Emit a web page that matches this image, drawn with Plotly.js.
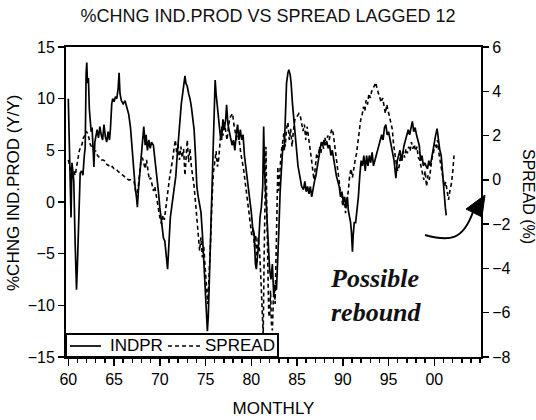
<!DOCTYPE html>
<html>
<head>
<meta charset="utf-8">
<script src="https://cdn.plot.ly/plotly-3.0.1.min.js"></script>
<style>html,body{margin:0;padding:0;background:#fff;}#chart{width:536px;height:420px;}</style>
</head>
<body>
<div id="chart"></div>
<script>
// ---- DATA (decimal years) ----
var indprYears = [1960.0,1960.08,1960.17,1960.3,1960.4,1960.5,1960.6,1960.75,1960.9,1961.0,1961.15,1961.3,1961.45,1961.6,1961.75,1961.85,1961.95,1962.02,1962.1,1962.2,1962.3,1962.4,1962.5,1962.6,1962.7,1962.8,1962.9,1963.0,1963.15,1963.3,1963.45,1963.6,1963.75,1963.9,1964.05,1964.2,1964.35,1964.5,1964.6,1964.75,1964.85,1965.0,1965.15,1965.3,1965.45,1965.55,1965.65,1965.8,1966.0,1966.2,1966.4,1966.6,1966.8,1967.0,1967.15,1967.3,1967.45,1967.55,1967.65,1967.8,1967.95,1968.1,1968.25,1968.4,1968.5,1968.65,1968.8,1968.95,1969.1,1969.3,1969.5,1969.7,1969.85,1970.0,1970.2,1970.4,1970.55,1970.7,1970.85,1971.0,1971.15,1971.3,1971.45,1971.6,1971.75,1971.9,1972.05,1972.2,1972.35,1972.5,1972.65,1972.75,1972.85,1973.0,1973.15,1973.3,1973.45,1973.6,1973.75,1973.9,1974.05,1974.2,1974.35,1974.5,1974.65,1974.8,1974.95,1975.1,1975.2,1975.3,1975.45,1975.6,1975.75,1975.85,1975.95,1976.05,1976.15,1976.3,1976.45,1976.6,1976.75,1976.9,1977.05,1977.2,1977.3,1977.45,1977.6,1977.75,1977.9,1978.05,1978.2,1978.35,1978.5,1978.65,1978.8,1978.95,1979.1,1979.25,1979.4,1979.55,1979.7,1979.85,1980.0,1980.15,1980.3,1980.45,1980.55,1980.7,1980.8,1980.95,1981.1,1981.25,1981.35,1981.45,1981.55,1981.7,1981.85,1982.0,1982.15,1982.3,1982.45,1982.6,1982.75,1982.9,1983.0,1983.15,1983.3,1983.45,1983.6,1983.75,1983.85,1984.0,1984.1,1984.25,1984.35,1984.5,1984.65,1984.8,1984.95,1985.1,1985.3,1985.5,1985.7,1985.85,1986.0,1986.15,1986.3,1986.45,1986.6,1986.75,1986.9,1987.05,1987.2,1987.35,1987.5,1987.65,1987.8,1987.95,1988.1,1988.25,1988.4,1988.55,1988.7,1988.85,1989.0,1989.15,1989.3,1989.45,1989.6,1989.75,1989.9,1990.05,1990.2,1990.35,1990.5,1990.6,1990.75,1990.85,1990.95,1991.05,1991.15,1991.25,1991.4,1991.55,1991.7,1991.85,1992.0,1992.15,1992.3,1992.45,1992.6,1992.75,1992.9,1993.05,1993.2,1993.35,1993.5,1993.65,1993.8,1993.95,1994.1,1994.25,1994.4,1994.55,1994.7,1994.85,1995.0,1995.15,1995.3,1995.45,1995.6,1995.8,1995.95,1996.1,1996.25,1996.4,1996.55,1996.7,1996.85,1997.0,1997.15,1997.3,1997.45,1997.6,1997.75,1997.9,1998.05,1998.2,1998.35,1998.5,1998.65,1998.8,1998.95,1999.1,1999.25,1999.4,1999.55,1999.7,1999.85,2000.0,2000.15,2000.3,2000.45,2000.6,2000.75,2000.9,2001.05,2001.2,2001.3];
var indprValues = [10.0,4.5,3.5,-1.5,3.8,3.0,2.0,-4,-8.5,-6,-2,2.8,3.0,2.6,4.5,5.3,12.5,13.5,11.5,12,9,7.2,6.8,7.2,4.5,3.4,5.8,6.5,7.0,6.2,7.3,6.5,6.0,7.5,6.3,5.8,6.8,6.0,7.0,9.5,10.0,9.7,10.2,10.0,11.0,12.5,10.5,9.8,9.5,9.8,9.2,8.5,7.2,4.5,3.0,1.5,0.5,-0.5,1.0,2.5,4.5,5.5,7.3,5.5,6.5,5.0,6.0,5.2,5.8,5.5,4.0,2.5,1.0,-0.5,-2.0,-3.5,-3.8,-5.0,-6.5,-4.0,-1.5,-0.5,0.5,1.5,2.5,4.5,6.5,8.5,9.5,10.5,11.8,12.2,11.5,11.2,10.5,10.0,9.2,8.0,7.0,4.5,1.5,0.5,-0.5,-1.0,-3.0,-6.0,-9.0,-11.5,-12.5,-11.0,-6.5,-3.0,1.5,5.0,9.5,11.8,10.5,9.0,8.0,6.5,6.0,8.0,7.0,8.0,9.4,7.5,6.8,6.0,5.5,6.0,5.0,6.5,7.5,6.0,7.0,6.0,6.5,4.5,3.5,2.5,1.5,0.0,-1.0,-2.5,-3.0,-6.0,-6.5,-5.0,-4.0,-1.5,-0.5,1.5,7.3,3.0,1.0,-0.5,-3.5,-6.5,-7.5,-6.0,-9.0,-8.0,-8.5,-6.0,-3.0,1.0,4.0,5.5,5.0,9.0,11.5,12.5,12.8,12.3,11.5,9.5,8.0,6.5,4.5,3.5,2.5,1.5,1.2,2.0,1.0,1.5,0.8,1.5,0.5,1.5,2.0,2.5,3.5,4.2,5.0,5.8,5.5,6.0,5.5,5.8,5.2,5.5,4.5,5.0,4.0,3.0,2.5,2.0,1.5,0.5,1.0,0.0,0.5,-0.5,0.5,-0.8,-1.4,-2.0,-3.0,-4.8,-3.0,-2.0,-2.0,-1.0,0.5,2.5,4.0,3.5,4.5,3.0,4.5,3.5,4.5,3.8,4.8,3.5,4.0,4.5,5.0,5.5,5.8,6.5,6.0,7.2,7.5,6.5,6.8,6.0,5.5,4.5,4.0,2.3,4.0,4.5,5.0,4.0,5.0,5.5,6.0,6.5,7.0,6.5,7.2,7.8,6.8,7.2,6.5,5.9,5.5,4.0,4.5,3.5,3.8,3.5,3.2,4.0,3.5,4.2,5.0,6.0,6.5,7.1,6.0,5.0,4.5,2.5,1.0,-0.5,-1.3];

var spreadYears = [1960.0,1960.15,1960.3,1960.45,1960.6,1960.75,1960.9,1961.05,1961.2,1961.35,1961.5,1961.65,1961.8,1961.95,1962.1,1962.25,1962.4,1962.55,1962.7,1962.85,1963.0,1963.2,1963.4,1963.6,1963.8,1964.0,1964.2,1964.4,1964.6,1964.8,1965.0,1965.2,1965.4,1965.6,1965.8,1966.0,1966.2,1966.4,1966.6,1966.8,1967.0,1967.2,1967.35,1967.5,1967.65,1967.8,1967.95,1968.1,1968.25,1968.4,1968.55,1968.7,1968.85,1969.0,1969.15,1969.3,1969.45,1969.6,1969.75,1969.9,1970.05,1970.2,1970.35,1970.5,1970.65,1970.8,1970.95,1971.1,1971.25,1971.4,1971.55,1971.7,1971.85,1972.0,1972.15,1972.3,1972.45,1972.6,1972.75,1972.9,1973.0,1973.15,1973.3,1973.45,1973.6,1973.75,1973.9,1974.05,1974.2,1974.35,1974.5,1974.65,1974.8,1974.95,1975.1,1975.25,1975.4,1975.55,1975.7,1975.85,1976.0,1976.15,1976.3,1976.45,1976.6,1976.75,1976.9,1977.05,1977.2,1977.35,1977.5,1977.65,1977.8,1977.95,1978.1,1978.25,1978.4,1978.55,1978.7,1978.85,1979.0,1979.15,1979.3,1979.45,1979.6,1979.75,1979.9,1980.05,1980.2,1980.35,1980.5,1980.6,1980.75,1980.9,1981.05,1981.2,1981.3,1981.4,1981.5,1981.6,1981.7,1981.8,1981.9,1982.0,1982.1,1982.2,1982.3,1982.4,1982.5,1982.6,1982.7,1982.8,1982.9,1983.0,1983.1,1983.25,1983.4,1983.55,1983.7,1983.85,1984.0,1984.15,1984.3,1984.45,1984.6,1984.75,1984.9,1985.05,1985.2,1985.35,1985.5,1985.65,1985.8,1985.95,1986.1,1986.25,1986.4,1986.55,1986.7,1986.85,1987.0,1987.15,1987.3,1987.45,1987.6,1987.75,1987.9,1988.05,1988.2,1988.35,1988.5,1988.65,1988.8,1988.95,1989.1,1989.25,1989.4,1989.55,1989.7,1989.85,1990.0,1990.15,1990.3,1990.45,1990.6,1990.75,1990.9,1991.05,1991.2,1991.35,1991.5,1991.65,1991.8,1991.95,1992.1,1992.25,1992.4,1992.55,1992.7,1992.85,1993.0,1993.15,1993.3,1993.45,1993.6,1993.75,1993.9,1994.05,1994.2,1994.35,1994.5,1994.65,1994.8,1994.95,1995.1,1995.25,1995.4,1995.55,1995.7,1995.85,1996.0,1996.15,1996.3,1996.45,1996.6,1996.75,1996.9,1997.05,1997.2,1997.35,1997.5,1997.65,1997.8,1997.95,1998.1,1998.25,1998.4,1998.55,1998.7,1998.85,1999.0,1999.15,1999.3,1999.45,1999.6,1999.75,1999.9,2000.05,2000.2,2000.35,2000.5,2000.65,2000.8,2000.95,2001.1,2001.25,2001.4,2001.55,2001.7,2001.85,2002.0,2002.15];
var spreadValues = [0.9,0.6,0.4,0.2,0.4,0.2,0.6,1.0,1.3,1.5,1.6,1.9,2.0,2.2,2.1,1.9,1.6,1.5,1.4,1.3,1.3,1.1,1.0,0.9,0.9,0.85,0.7,0.65,0.55,0.6,0.5,0.5,0.4,0.3,0.25,0.2,0.1,0.05,0.0,0.0,-0.05,-0.1,-0.5,-0.8,-0.3,0.4,0.9,1.0,0.8,0.5,0.9,0.3,0.0,0.1,-0.2,-0.5,-0.3,-0.7,-1.0,-1.3,-1.8,-2.0,-1.6,-1.8,-1.2,-0.6,-0.3,0.2,0.5,0.9,1.4,1.8,1.2,1.6,0.9,1.5,1.0,1.4,0.2,1.2,1.8,0.8,1.4,0.6,0.2,-0.3,-1.0,-1.8,-2.5,-3.2,-2.6,-3.5,-3.0,-4.2,-4.8,-5.6,-4.5,-2.8,-1.0,0.3,0.8,1.3,0.6,1.0,1.8,2.4,2.0,2.6,2.2,1.8,2.4,2.8,2.9,3.0,2.5,2.2,1.8,2.0,1.7,1.2,0.9,0.5,0.0,-0.5,-1.2,-1.5,-2.0,-2.5,-2.2,-3.0,-2.5,-3.8,-2.6,-3.2,-4.5,-6.0,-7.0,-3.5,0.5,1.5,-1.5,-4.0,-6.0,-6.2,-5.0,-6.5,-6.8,-5.5,-4.8,-5.6,-3.5,-1.5,0.6,-0.5,0.3,1.2,1.6,2.1,1.5,2.3,2.6,1.8,2.3,1.5,2.2,2.7,2.8,2.9,3.0,2.9,2.6,2.2,2.5,1.8,2.4,2.0,1.6,1.0,0.5,0.0,0.6,1.2,1.0,1.5,1.2,1.7,1.4,1.9,1.6,2.0,1.8,2.1,2.3,2.1,1.6,1.0,0.4,-0.1,-0.4,-0.7,-1.2,-0.8,-1.5,-0.9,-0.5,0.2,0.5,0.1,0.6,0.9,1.2,1.8,2.2,2.7,2.9,3.3,3.1,3.6,3.4,3.9,3.7,4.0,4.1,4.3,4.4,4.1,3.9,3.8,3.5,3.7,3.3,3.0,3.4,3.1,2.9,2.6,2.3,1.6,1.0,0.7,0.4,0.6,1.1,0.8,1.3,1.0,1.4,1.2,1.5,1.3,1.7,1.4,1.6,1.3,1.5,1.0,0.9,0.5,0.3,0.0,0.4,-0.3,0.2,0.0,0.6,1.0,1.2,1.6,1.4,1.8,1.2,0.8,0.3,0.0,-0.3,-0.1,-0.6,-0.9,-0.5,-0.2,0.3,1.1];

var tickYears = [1960,1965,1970,1975,1980,1985,1990,1995,2000];
var tickLabels = ['60','65','70','75','80','85','90','95','00'];
var seriesNames = ['INDPR','SPREAD'];

// ---- LAYOUT HELPERS (pixel -> paper, for decorations only) ----
var W = 536, H = 420, ML = 66, MR = 55, MT = 47, MB = 63;
var PW = W - ML - MR, PH = H - MT - MB;
function px(x){ return +((x - ML) / PW).toFixed(4); }
function py(y){ return +((H - MB - y) / PH).toFixed(4); }

var FONT = 'Liberation Sans, Arial, sans-serif';

var traces = [
  {x: indprYears, y: indprValues, name: seriesNames[0], type: 'scatter', mode: 'lines',
   line: {color: '#000', width: 1.7}, yaxis: 'y', showlegend: false},
  {x: spreadYears, y: spreadValues, name: seriesNames[1], type: 'scatter', mode: 'lines',
   line: {color: '#000', width: 1.6, dash: '4px,3px'}, yaxis: 'y2', showlegend: false}
];

var curve = 'M ' + px(425) + ',' + py(235) + ' C ' + px(450) + ',' + py(242) + ' ' + px(463) + ',' + py(240) + ' ' + px(473) + ',' + py(212);
var head = 'M ' + px(485) + ',' + py(195) + ' L ' + px(466) + ',' + py(209) + ' L ' + px(482) + ',' + py(217) + ' Z';

var layout = {
  width: W, height: H,
  margin: {l: ML, r: MR, t: MT, b: MB, pad: 0},
  paper_bgcolor: '#fff', plot_bgcolor: '#fff',
  font: {family: FONT, size: 16, color: '#000'},
  showlegend: false,
  title: {text: '%CHNG IND.PROD VS SPREAD LAGGED 12', font: {family: FONT, size: 18, color: '#111'},
          x: 0.5, xanchor: 'center', y: 1 - 16/H, yanchor: 'middle'},
  xaxis: {
    range: [1959.75, 2005.1], tickmode: 'array', tickvals: tickYears, ticktext: tickLabels,
    ticks: 'outside', ticklen: 7, tickwidth: 1.5, tickcolor: '#000',
    showline: true, linewidth: 2, linecolor: '#000', mirror: true,
    showgrid: false, zeroline: false,
    tickfont: {size: 16},
    minor: {tickmode: 'linear', tick0: 1960, dtick: 1, ticks: 'outside', ticklen: 4, tickwidth: 1.5, tickcolor: '#000', showgrid: false},
    title: {text: 'MONTHLY', font: {size: 17}, standoff: 15}
  },
  yaxis: {
    range: [-15, 15], dtick: 5, ticks: 'outside', ticklen: 6, tickwidth: 1.5, tickcolor: '#000',
    showline: true, linewidth: 2, linecolor: '#000', showgrid: false, zeroline: false,
    tickfont: {size: 16}
  },
  yaxis2: {
    range: [-8, 6], dtick: 2, overlaying: 'y', side: 'right',
    ticks: 'outside', ticklen: 6, tickwidth: 1.5, tickcolor: '#000',
    showline: true, linewidth: 2, linecolor: '#000', showgrid: false, zeroline: false,
    tickfont: {size: 16}
  },
  annotations: [
    // axis titles
    {text: '%CHNG IND.PROD (Y/Y)', textangle: -90, xref: 'paper', yref: 'paper', x: px(13), y: py(193),
     xanchor: 'center', yanchor: 'middle', showarrow: false, font: {size: 17}},
    {text: 'SPREAD (%)', textangle: 90, xref: 'paper', yref: 'paper', x: px(528), y: py(196),
     xanchor: 'center', yanchor: 'middle', showarrow: false, font: {size: 16}},
    // legend texts
    {text: seriesNames[0], xref: 'paper', yref: 'paper', x: px(108), y: py(346),
     xanchor: 'left', yanchor: 'middle', showarrow: false, font: {size: 17}},
    {text: seriesNames[1], xref: 'paper', yref: 'paper', x: px(203), y: py(346),
     xanchor: 'left', yanchor: 'middle', showarrow: false, font: {size: 17}},
    // call-out
    {text: '<b><i>Possible<br>rebound</i></b>', xref: 'paper', yref: 'paper', x: px(328), y: py(296),
     xanchor: 'left', yanchor: 'middle', align: 'left', showarrow: false,
     font: {family: 'Liberation Serif, Times New Roman, serif', size: 26, color: '#111'}}
  ],
  shapes: [
    // legend box and samples
    {type: 'rect', xref: 'paper', yref: 'paper', x0: px(66), x1: px(278), y0: py(357), y1: py(334),
     line: {color: '#000', width: 2}, fillcolor: '#fff', layer: 'above'},
    {type: 'line', xref: 'paper', yref: 'paper', x0: px(70), x1: px(101), y0: py(346), y1: py(346),
     line: {color: '#000', width: 1.7}},
    {type: 'line', xref: 'paper', yref: 'paper', x0: px(168), x1: px(201), y0: py(346), y1: py(346),
     line: {color: '#000', width: 1.6, dash: '4px,3px'}},
    // arrow
    {type: 'path', path: curve, xref: 'paper', yref: 'paper', line: {color: '#000', width: 2}},
    {type: 'path', path: head, xref: 'paper', yref: 'paper', line: {color: '#000', width: 1}, fillcolor: '#000'}
  ]
};

Plotly.newPlot('chart', traces, layout, {staticPlot: true, displayModeBar: false});
</script>
</body>
</html>
